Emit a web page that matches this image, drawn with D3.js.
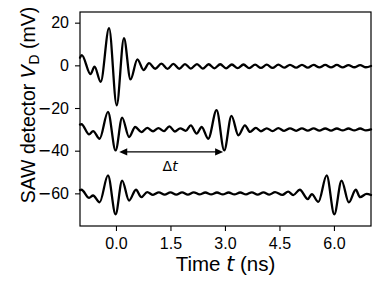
<!DOCTYPE html>
<html>
<head>
<meta charset="utf-8">
<script src="https://cdn.jsdelivr.net/npm/d3@7"></script>
<style>
  body { margin: 0; background: #fff; }
  svg { display: block; font-family: "Liberation Sans", Arial, sans-serif; }
</style>
</head>
<body>
<svg id="chart"></svg>
<script>
const width = 382, height = 292
const margin = {top: 12, right: 11, bottom: 66, left: 80}
const mathFont = '"DejaVu Sans", sans-serif'

// time (ns) / detector voltage (mV)
const traceTop = [
    [-0.99, 3.6], [-0.94, 4.8], [-0.70, -4.1], [-0.59, -0.6], [-0.42, -7.7],
    [-0.19, 17.4], [0.02, -18.7], [0.22, 12.7], [0.40, -6.6], [0.59, 2.8],
    [0.76, -2.2], [0.91, 1.0], [1.08, -1.6], [1.25, 0.8], [1.42, -1.7],
    [1.58, 0.7], [1.74, -1.6], [1.90, 0.6], [2.06, -1.5], [2.23, 0.6],
    [2.39, -1.5], [2.55, 0.5], [2.71, -1.4], [2.87, 0.5], [3.03, -1.4],
    [3.19, 0.4], [3.35, -1.3], [3.51, 0.4], [3.67, -1.3], [3.83, 0.3],
    [3.99, -1.2], [4.15, 0.3], [4.31, -1.2], [4.47, 0.3], [4.63, -1.1],
    [4.79, 0.2], [4.96, -1.1], [5.12, 0.2], [5.28, -1.1], [5.44, 0.2],
    [5.60, -1.0], [5.76, 0.2], [5.92, -1.0], [6.08, 0.2], [6.24, -1.0],
    [6.40, 0.1], [6.56, -0.9], [6.72, 0.1], [6.88, -0.9], [7.02, -0.3],
]

const traceMid = [
    [-0.99, -27.8], [-0.95, -27.6], [-0.74, -32.4], [-0.63, -30.8], [-0.45, -34.4],
    [-0.22, -21.8], [-0.01, -39.9], [0.17, -24.5], [0.36, -33.6], [0.53, -28.9],
    [0.70, -31.3], [0.86, -29.3], [1.02, -30.9], [1.17, -29.4], [1.32, -30.8],
    [1.47, -28.6], [1.62, -31.0], [1.77, -29.5], [1.92, -30.7], [2.06, -28.1],
    [2.22, -32.0], [2.36, -28.9], [2.54, -34.4], [2.77, -21.0], [2.98, -39.9],
    [3.18, -23.7], [3.37, -32.8], [3.55, -28.1], [3.69, -31.2], [3.85, -29.3],
    [3.99, -30.9], [4.15, -29.5], [4.31, -30.8], [4.47, -29.4], [4.63, -30.7],
    [4.79, -29.5], [4.96, -30.7], [5.12, -29.5], [5.28, -30.6], [5.44, -29.5],
    [5.60, -30.6], [5.76, -29.6], [5.92, -30.6], [6.08, -29.6], [6.24, -30.5],
    [6.40, -29.6], [6.56, -30.5], [6.72, -29.6], [6.88, -30.5], [7.02, -30.0],
]

const traceLow = [
    [-0.99, -58.5], [-0.95, -58.3], [-0.74, -62.1], [-0.63, -61.0], [-0.45, -64.2],
    [-0.22, -51.6], [-0.01, -69.8], [0.17, -54.0], [0.36, -63.4], [0.55, -58.3],
    [0.70, -61.8], [0.86, -59.4], [1.02, -60.7], [1.18, -59.5], [1.34, -60.6],
    [1.50, -59.5], [1.66, -60.6], [1.82, -59.5], [1.98, -60.6], [2.14, -59.5],
    [2.30, -60.5], [2.46, -59.6], [2.62, -60.5], [2.78, -59.6], [2.94, -60.5],
    [3.10, -59.6], [3.26, -60.5], [3.42, -59.6], [3.58, -60.5], [3.74, -59.5],
    [3.90, -60.6], [4.06, -59.5], [4.22, -60.6], [4.38, -59.4], [4.58, -60.7],
    [4.74, -59.2], [4.88, -60.8], [5.06, -58.3], [5.28, -62.7], [5.39, -60.4],
    [5.57, -64.0], [5.80, -51.6], [6.01, -69.8], [6.21, -54.0], [6.41, -64.2],
    [6.60, -58.3], [6.72, -61.8], [6.90, -60.2], [7.02, -60.8],
]

const xTicks = [0, 1.5, 3.0, 4.5, 6.0]
const yTicks = [20, 0, -20, -40, -60]
const xDomain = [-0.99, 7.02]
const yDomain = [-75.3, 25.0]

// delta-t arrow: start time, end time, level (mV), label position
const arrowT = [0.09, 2.95]
const arrowV = -40.6
const arrowLabel = {t: 1.49, v: -49.4}

const svg = d3.select("svg#chart")
    .attr("width", width)
    .attr("height", height)
    .attr("viewBox", [0, 0, width, height])

svg.append("rect")
    .attr("width", width).attr("height", height)
    .attr("fill", "#fff")

const xScale = d3.scaleLinear()
    .domain(xDomain)
    .range([margin.left, width - margin.right])

const yScale = d3.scaleLinear()
    .domain(yDomain)
    .range([height - margin.bottom, margin.top])

const line = d3.line()
    .x(d => xScale(d[0]))
    .y(d => yScale(d[1]))
    .curve(d3.curveMonotoneX)

// Traces
svg.append("g").classed("traces", true)
    .selectAll("path")
    .data([traceTop, traceMid, traceLow])
    .enter()
    .append("path")
    .attr("d", line)
    .attr("fill", "none")
    .attr("stroke", "#000")
    .attr("stroke-width", 2.3)
    .attr("stroke-linejoin", "round")
    .attr("stroke-linecap", "round")

// X axis
const xAxis = svg.append("g").classed("x-axis", true)
    .attr("transform", `translate(0, ${height - margin.bottom})`)
    .call(d3.axisBottom(xScale)
        .tickValues(xTicks)
        .tickFormat(d3.format(".1f"))
        .tickSize(5)
        .tickPadding(7))

// Y axis
const yAxis = svg.append("g").classed("y-axis", true)
    .attr("transform", `translate(${margin.left}, 0)`)
    .call(d3.axisLeft(yScale)
        .tickValues(yTicks)
        .tickSize(5)
        .tickPadding(6))

for (const ax of [xAxis, yAxis]) {
    ax.select(".domain").remove()
    ax.selectAll("line").attr("stroke", "#000").attr("stroke-width", 1.1)
    ax.selectAll("text")
        .attr("font-family", '"Liberation Sans", Arial, sans-serif')
        .attr("font-size", 16)
        .attr("fill", "#000")
}

// minus sign drawn with the DejaVu glyph, like the original
yAxis.selectAll("text").each(function () {
    const s = d3.select(this).text()
    if (s.startsWith("−")) {
        d3.select(this).text(null)
        d3.select(this).append("tspan").attr("font-family", mathFont).text("−")
        d3.select(this).append("tspan").text(s.slice(1))
    }
})

// Frame
svg.append("rect")
    .attr("x", margin.left)
    .attr("y", margin.top)
    .attr("width", width - margin.right - margin.left)
    .attr("height", height - margin.bottom - margin.top)
    .attr("fill", "none")
    .attr("stroke", "#000")
    .attr("stroke-width", 1.2)

// Delta-t arrow
const ay = yScale(arrowV)
const ax0 = xScale(arrowT[0]), ax1 = xScale(arrowT[1])
const headL = 8, headW = 3.6
svg.append("line")
    .attr("x1", ax0 + headL - 1).attr("x2", ax1 - headL + 1)
    .attr("y1", ay).attr("y2", ay)
    .attr("stroke", "#000").attr("stroke-width", 1.2)
svg.append("path")
    .attr("d", `M${ax0},${ay}L${ax0 + headL},${ay - headW}L${ax0 + headL},${ay + headW}Z`
        + `M${ax1},${ay}L${ax1 - headL},${ay - headW}L${ax1 - headL},${ay + headW}Z`)
    .attr("fill", "#000")

const lbl = svg.append("text")
    .attr("x", xScale(arrowLabel.t))
    .attr("y", yScale(arrowLabel.v))
    .attr("text-anchor", "middle")
    .attr("font-family", mathFont)
    .attr("font-size", 14)
lbl.append("tspan").text("Δ")
lbl.append("tspan").attr("font-style", "italic").text("t")

// Axis labels
const xl = svg.append("text")
    .attr("x", (margin.left + width - margin.right) / 2)
    .attr("y", 271)
    .attr("text-anchor", "middle")
    .attr("font-size", 20.5)
xl.append("tspan").text("Time ")
xl.append("tspan").attr("font-family", mathFont).attr("font-style", "italic").text("t")
xl.append("tspan").text(" (ns)")

const yl = svg.append("text")
    .attr("transform", "translate(35, 105) rotate(-90)")
    .attr("text-anchor", "middle")
    .attr("font-size", 19.5)
yl.append("tspan").text("SAW detector ")
yl.append("tspan").attr("font-family", mathFont).attr("font-style", "italic").text("V")
yl.append("tspan").attr("font-family", mathFont).attr("font-size", 13.5).attr("dy", 4).text("D")
yl.append("tspan").attr("dy", -4).text(" (mV)")
</script>
</body>
</html>
